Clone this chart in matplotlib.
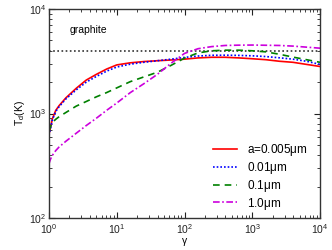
import matplotlib
matplotlib.use("Agg")
import matplotlib.pyplot as plt
from matplotlib.ticker import LogLocator, NullFormatter

plt.rcParams['font.family'] = ['Liberation Sans', 'DejaVu Sans']
plt.rcParams['mathtext.fontset'] = 'custom'
plt.rcParams['mathtext.rm'] = 'Liberation Sans'
plt.rcParams['mathtext.it'] = 'Liberation Sans:italic'
plt.rcParams['mathtext.default'] = 'regular'

gamma = [1, 1.047, 1.122, 1.259, 1.413, 1.778, 2.512, 3.548, 5.012, 7.079, 10, 15.85, 25.12,
         39.81, 63.1, 100, 158.5, 251.2, 398.1, 631, 1000, 1585, 2512, 3981, 6310, 10000]
T_a0005 = [631, 724, 891, 1072, 1191, 1413, 1738, 2089, 2371, 2661, 2917, 3055, 3141,
           3199, 3251, 3311, 3404, 3451, 3451, 3404, 3342, 3273, 3162, 3090, 2951, 2818]
T_a001 = [617, 708, 871, 1047, 1164, 1380, 1679, 1995, 2265, 2541, 2786, 2965, 3090,
          3199, 3311, 3443, 3548, 3606, 3614, 3597, 3565, 3508, 3412, 3311, 3162, 2951]
T_a01 = [676, 741, 822, 881, 933, 1023, 1175, 1303, 1445, 1585, 1758, 2018, 2239,
         2483, 2884, 3388, 3802, 3981, 4036, 4036, 3981, 3890, 3690, 3467, 3273, 3090]
T_a10 = [331, 363, 398, 442, 479, 543, 646, 767, 902, 1072, 1259, 1585, 1928,
         2371, 3020, 3758, 4169, 4365, 4477, 4508, 4519, 4498, 4477, 4416, 4315, 4217]
T_sub = 4000
labels = ["a=0.005$\\mu$m", "0.01$\\mu$m", "0.1$\\mu$m", "1.0$\\mu$m"]

fig = plt.figure(figsize=(3.32, 2.5), dpi=100)
ax = fig.add_axes([49/332, 1-218/250, 271/332, 209/250])

ax.plot(gamma, T_a0005, color='#ff0000', lw=1.2, ls='-', label=labels[0])
ax.plot(gamma, T_a001, color='#0000ff', lw=1.2, ls=(0, (1, 1.2)), label=labels[1])
ax.plot(gamma, T_a01, color='#008000', lw=1.2, ls=(0, (4, 3)), label=labels[2])
ax.plot(gamma, T_a10, color='#cc00dd', lw=1.2, ls=(0, (4, 1.5, 1, 1.5)), label=labels[3])
ax.axhline(T_sub, color='#333333', lw=1.2, ls=(0, (1, 1.5)), zorder=1)

ax.set_xscale('log')
ax.set_yscale('log')
ax.set_xlim(1, 1e4)
ax.set_ylim(1e2, 1e4)

for a in (ax.xaxis, ax.yaxis):
    a.set_major_locator(LogLocator(base=10, numticks=10))
    a.set_minor_locator(LogLocator(base=10, subs=range(2, 10), numticks=50))
    a.set_minor_formatter(NullFormatter())

ax.tick_params(which='both', direction='in', top=True, right=True, labelsize=7.5, colors='#222222')
ax.tick_params(which='major', length=4, width=0.8, pad=2)
ax.tick_params(axis='x', which='major', pad=2.8)
ax.tick_params(which='minor', length=2.2, width=0.6)
for s in ax.spines.values():
    s.set_linewidth(1.0)
    s.set_color('#333333')

ax.set_xlabel('$\\gamma$', fontsize=7.5, labelpad=0)
ax.set_ylabel('T$_{d}$(K)', fontsize=7.5)
ax.yaxis.set_label_coords(-0.081, 0.5)
ax.text(0.077, 0.9, 'graphite', transform=ax.transAxes, fontsize=7.5, va='center', ha='left')

leg = ax.legend(loc='lower right', bbox_to_anchor=(0.956, 0.031), frameon=False, fontsize=8.5,
                handlelength=2.1, handletextpad=0.85, labelspacing=0.16, borderaxespad=0,
                borderpad=0)

fig.savefig('out.png', dpi=100)
